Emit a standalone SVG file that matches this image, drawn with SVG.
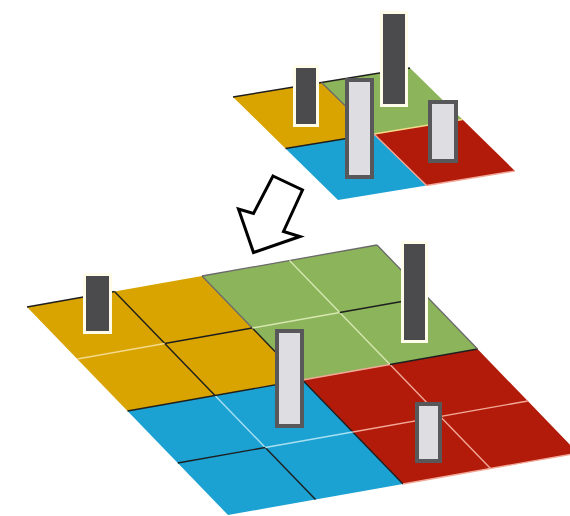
<svg xmlns="http://www.w3.org/2000/svg" width="570" height="516" viewBox="0 0 570 516">
  <style>
    .y { fill: #d9a400; }
    .g { fill: #8cb45a; }
    .b { fill: #1ba1d2; }
    .r { fill: #b21b0a; }
    .dk { stroke: #1e1e1e; stroke-width: 1.4; fill: none; }
    .gr { stroke: #6a6a6a; stroke-width: 1.3; fill: none; }
    .lty { stroke: #f3d98a; stroke-width: 1.4; fill: none; }
    .ltg { stroke: #d6e8b0; stroke-width: 1.4; fill: none; }
    .ltr { stroke: #f2a898; stroke-width: 1.4; fill: none; }
    .ltb { stroke: #a8e0f2; stroke-width: 1.4; fill: none; }
    .darkbar { fill: #4b4b4d; stroke: #fffcea; stroke-width: 3; }
    .lightbar { fill: #dedee2; stroke: #58585a; stroke-width: 4; }
    .arrow { fill: #ffffff; stroke: #000000; stroke-width: 3; stroke-linejoin: miter; }
  </style>
  <rect width="570" height="516" fill="#ffffff"/>

  <!-- Small 2x2 grid -->
  <g id="top-grid">
    <polygon class="y" points="233,97 321.5,82.5 374,134 285.5,148.5"/>
    <polygon class="g" points="321.5,82.5 410,68 462.5,119.5 374,134"/>
    <polygon class="b" points="285.5,148.5 374,134 426.5,185.5 338,200"/>
    <polygon class="r" points="374,134 462.5,119.5 515,171 426.5,185.5"/>
    <line class="dk" x1="233" y1="97" x2="410" y2="68" stroke-width="1"/>
    <line class="dk" x1="285.5" y1="148.5" x2="374" y2="134"/>
    <line class="lty" x1="374" y1="134" x2="462.5" y2="119.5"/>
    <line class="gr" x1="321.5" y1="82.5" x2="374" y2="134"/>
    <line class="ltr" x1="374" y1="134" x2="426.5" y2="185.5"/>
    <line class="ltr" x1="426.5" y1="185.5" x2="515" y2="171" stroke-width="1"/>
  </g>

  <!-- Large 4x4 grid -->
  <g id="bottom-grid">
    <polygon class="y" points="27,307 202,276 302.5,380 127.5,411"/>
    <polygon class="g" points="202,276 377,245 477.5,349 302.5,380"/>
    <polygon class="b" points="127.5,411 302.5,380 403,484 228,515"/>
    <polygon class="r" points="302.5,380 477.5,349 578,453 403,484"/>
    <line class="dk" x1="27" y1="307" x2="114.5" y2="291.5" stroke-width="1"/>
    <line class="gr" x1="202" y1="276" x2="377" y2="245" stroke-width="0.8"/>
    <!-- column lines -->
    <line class="dk" x1="114.5" y1="291.5" x2="215" y2="395.5"/>
    <line class="ltb" x1="215" y1="395.5" x2="265.25" y2="447.5"/>
    <line class="dk" x1="265.25" y1="447.5" x2="315.5" y2="499.5"/>
    <line class="gr" x1="202" y1="276" x2="252.25" y2="328"/>
    <line class="dk" x1="252.25" y1="328" x2="302.5" y2="380"/>
    <line class="dk" x1="302.5" y1="380" x2="403" y2="484"/>
    <line class="ltg" x1="289.5" y1="260.5" x2="390" y2="364.5"/>
    <line class="ltr" x1="390" y1="364.5" x2="490.5" y2="468.5"/>
    <!-- row lines -->
    <line class="lty" x1="77.25" y1="359" x2="164.75" y2="343.5"/>
    <line class="dk" x1="164.75" y1="343.5" x2="252.25" y2="328"/>
    <line class="ltg" x1="252.25" y1="328" x2="339.75" y2="312.5"/>
    <line class="dk" x1="339.75" y1="312.5" x2="427.25" y2="297"/>
    <line class="dk" x1="127.5" y1="411" x2="302.5" y2="380"/>
    <line class="ltr" x1="302.5" y1="380" x2="390" y2="364.5"/>
    <line class="dk" x1="390" y1="364.5" x2="477.5" y2="349"/>
    <line class="dk" x1="177.75" y1="463" x2="265.25" y2="447.5"/>
    <line class="ltb" x1="265.25" y1="447.5" x2="352.75" y2="432"/>
    <line class="ltr" x1="352.75" y1="432" x2="527.75" y2="401"/>
    <line class="ltr" x1="403" y1="484" x2="578" y2="453" stroke-width="1"/>
    <line class="gr" x1="377" y1="245" x2="477.5" y2="349" stroke-width="0.8"/>
  </g>

  <!-- Bars on the small grid -->
  <g id="top-bars">
    <rect id="top-bar-1" class="darkbar" x="294.5" y="66.5" width="23" height="59"/>
    <rect id="top-bar-2" class="lightbar" x="347" y="80" width="25" height="97"/>
    <rect id="top-bar-3" class="darkbar" x="381.5" y="12.5" width="25" height="93"/>
    <rect id="top-bar-4" class="lightbar" x="430" y="102" width="26" height="59"/>
  </g>

  <!-- Bars on the large grid -->
  <g id="bottom-bars">
    <rect id="bottom-bar-1" class="darkbar" x="84.5" y="274.5" width="26" height="58"/>
    <rect id="bottom-bar-2" class="lightbar" x="277" y="331" width="25" height="95"/>
    <rect id="bottom-bar-3" class="darkbar" x="402.5" y="242.5" width="24" height="99"/>
    <rect id="bottom-bar-4" class="lightbar" x="417" y="404" width="23" height="57"/>
  </g>

  <!-- Hollow arrow from the small grid to the large grid -->
  <g id="connectors">
    <polygon class="arrow" points="273,176 302.5,190 283.5,231.5 300,236.5 253.5,252.5 238.5,209 253.5,213.5"/>
  </g>
</svg>
